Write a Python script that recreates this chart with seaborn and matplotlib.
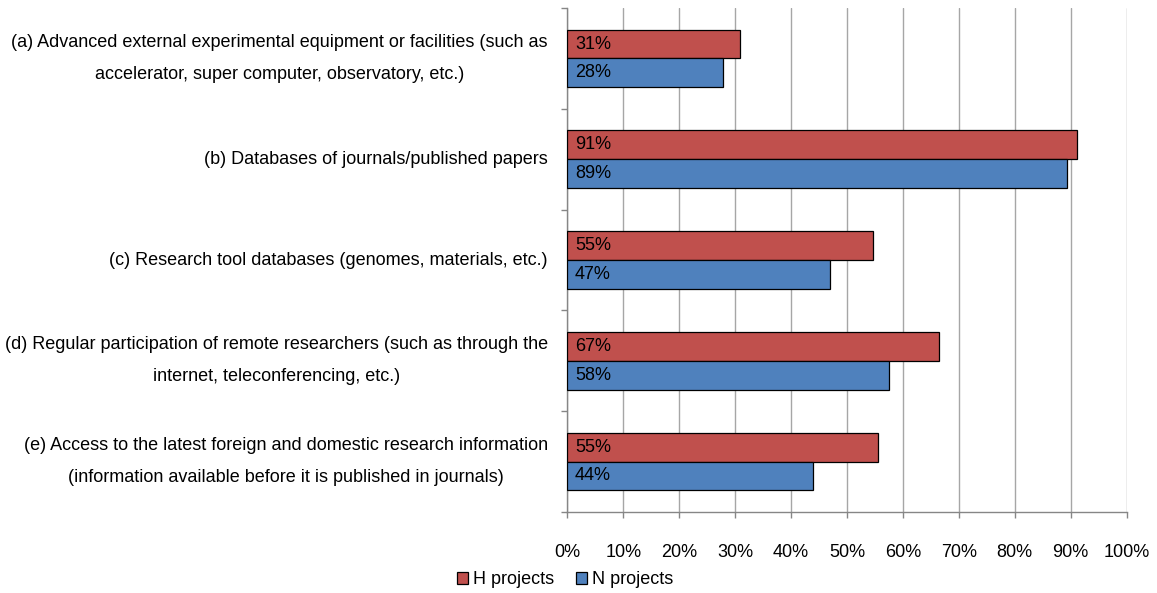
import matplotlib
matplotlib.use('Agg')
import matplotlib.pyplot as plt
import numpy as np
import pandas as pd
import seaborn as sns

# Data
categories = [
    "(a) Advanced external experimental equipment or facilities (such as\naccelerator, super computer, observatory, etc.)",
    "(b) Databases of journals/published papers",
    "(c) Research tool databases (genomes, materials, etc.)",
    "(d) Regular participation of remote researchers (such as through the\ninternet, teleconferencing, etc.)",
    "(e) Access to the latest foreign and domestic research information\n(information available before it is published in journals)",
]
series = ["H projects", "N projects"]
h_values = [30.8, 91.2, 54.6, 66.5, 55.5]
n_values = [27.9, 89.3, 46.9, 57.6, 44.0]
h_labels = ["31%", "91%", "55%", "67%", "55%"]
n_labels = ["28%", "89%", "47%", "58%", "44%"]
x_ticks = list(range(0, 101, 10))

colors = ["#C0504D", "#4F81BD"]

df = pd.DataFrame({
    'category': categories * 2,
    'series': [series[0]] * len(categories) + [series[1]] * len(categories),
    'value': h_values + n_values,
})

sns.set_style('white')
plt.rcParams['font.family'] = ['Liberation Sans', 'DejaVu Sans']
plt.rcParams['font.size'] = 13
plt.rcParams['text.color'] = 'black'
plt.rcParams['xtick.color'] = 'black'
plt.rcParams['ytick.color'] = 'black'

fig = plt.figure(figsize=(11.57, 5.93), dpi=100)
ax = fig.add_axes([0.4903, 0.1366, 0.4834, 0.8499])

sns.barplot(data=df, y='category', x='value', hue='series', orient='h',
            order=categories, hue_order=series, palette=colors, saturation=1,
            width=0.57, edgecolor='black', linewidth=0.9, ax=ax, zorder=3)

# Labels inside the bars, left aligned
for container, labels in zip(ax.containers, [h_labels, n_labels]):
    for patch, lab in zip(container.patches, labels):
        yc = patch.get_y() + patch.get_height() / 2
        ax.annotate(lab, xy=(0, yc), xytext=(5.5, 0), textcoords='offset points',
                    ha='left', va='center', fontsize=13, color='black', zorder=4)

ax.set_xlim(0, 100)
ax.set_ylim(len(categories) - 0.5, -0.5)
ax.set_xticks(x_ticks)
ax.set_xticklabels([f"{t}%" for t in x_ticks])
ax.set_xlabel('')
ax.set_ylabel('')

# category labels: centered multi-line, tick marks only at category boundaries
ax.tick_params(axis='y', which='major', left=True, length=0, pad=14, labelsize=13)
for lab in ax.get_yticklabels():
    lab.set_multialignment('center')
    lab.set_linespacing(2.15)
    lab.set_verticalalignment('center')
ax.set_yticks(np.arange(-0.5, len(categories), 1), minor=True)
ax.tick_params(axis='y', which='minor', left=True, length=4, width=1,
               color='#868686', direction='out')
ax.tick_params(axis='x', which='major', bottom=True, length=4, width=1,
               color='#868686', labelcolor='black', direction='out', pad=19, labelsize=13)

ax.grid(axis='x', color='#A6A6A6', linewidth=1, zorder=0)
ax.set_axisbelow(True)
for side in ['top', 'right']:
    ax.spines[side].set_visible(False)
for side in ['left', 'bottom']:
    ax.spines[side].set_color('#868686')
    ax.spines[side].set_linewidth(1)

handles, labels = ax.get_legend_handles_labels()
ax.get_legend().remove()
fig.legend(handles, labels, loc='center', bbox_to_anchor=(565 / 1157, 1 - 580 / 593),
           ncol=2, frameon=False, fontsize=13, handlelength=0.6, handleheight=0.6,
           handletextpad=0.3, columnspacing=1.2, borderaxespad=0)

fig.savefig('out.png', dpi=100)
